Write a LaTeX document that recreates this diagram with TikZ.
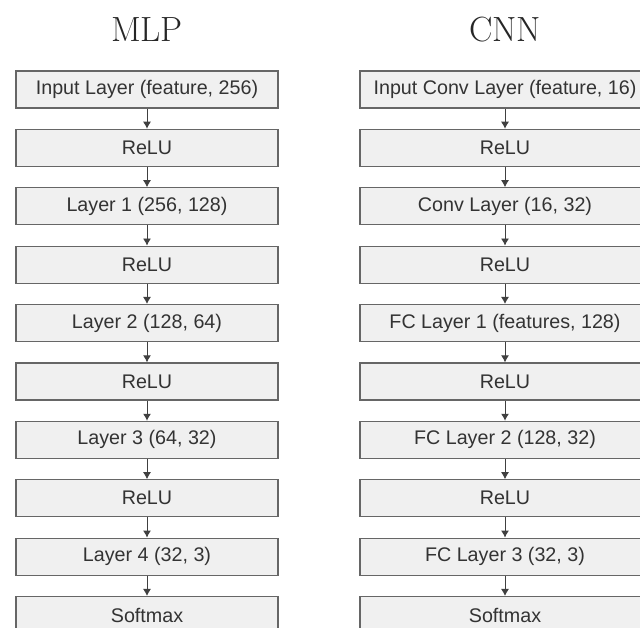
\documentclass[tikz,border=0pt]{standalone}
\usepackage{fontspec}
\newfontfamily\boxfont{Liberation Sans}
\usetikzlibrary{arrows.meta}
\tikzset{
  layer/.style={draw=black!60, fill=black!6, line width=1.3pt, minimum height=37pt,
    inner sep=0pt, text=black!80, font=\boxfont\fontsize{19.7}{22}\selectfont},
  flow/.style={-{Latex[length=7pt,width=8pt]}, line width=0.9pt, black!75},
  heading/.style={anchor=base, text=black!85, font=\fontsize{35}{38}\selectfont}
}

\begin{document}
\begin{tikzpicture}[x=1pt,y=-1pt]
  \useasboundingbox (0,0) rectangle (640,628);
  \clip (0,0) rectangle (640,628);
  \node[heading] (tmlp) at (147,42) {MLP};
  \node[heading] (tcnn) at (505,42) {CNN};
  % MLP column
  \foreach \t [count=\i from 0] in {{Input Layer (feature, 256)}, ReLU, {Layer 1 (256, 128)}, ReLU,
      {Layer 2 (128, 64)}, ReLU, {Layer 3 (64, 32)}, ReLU, {Layer 4 (32, 3)}, Softmax}
    \node[layer, minimum width=262pt] (m\i) at (147,{89.5+58.4*\i}) {\t};
  % CNN column
  \foreach \t [count=\i from 0] in {{Input Conv Layer (feature, 16)}, ReLU, {Conv Layer (16, 32)}, ReLU,
      {FC Layer 1 (features, 128)}, ReLU, {FC Layer 2 (128, 32)}, ReLU, {FC Layer 3 (32, 3)}, Softmax}
    \node[layer, minimum width=290pt] (c\i) at (505,{89.5+58.4*\i}) {\t};
  \foreach \i [evaluate=\i as \j using int(\i+1)] in {0,...,8} {
    \draw[flow] (m\i) -- (m\j);
    \draw[flow] (c\i) -- (c\j);
  }
\end{tikzpicture}
\end{document}
